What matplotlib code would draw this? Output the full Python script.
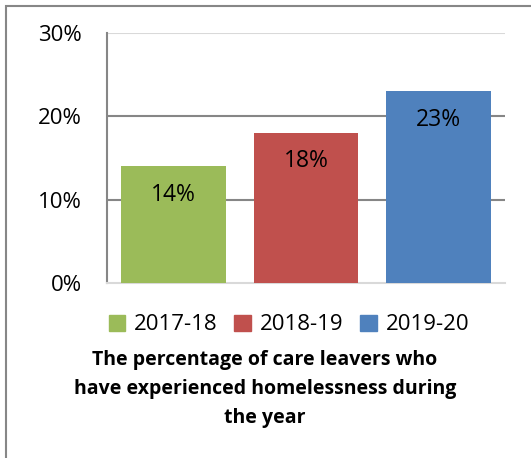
import matplotlib.pyplot as plt
from matplotlib.patches import Rectangle
import numpy as np

years = ['2017-18', '2018-19', '2019-20']
values = [14, 18, 23]
colors = ['#9bbb59', '#c0504d', '#4f81bd']
title = ('The percentage of care leavers who\n'
         'have experienced homelessness during\n'
         'the year')

plt.rcParams['font.family'] = ['Open Sans', 'DejaVu Sans']

W, H = 531, 458
fig = plt.figure(figsize=(W / 100, H / 100), dpi=100)

# outer frame (left and top edges visible)
fig.add_artist(Rectangle((6 / W, -0.1), 1.2, (H - 6) / H + 0.1,
                         transform=fig.transFigure, fill=False,
                         edgecolor='#878787', linewidth=1.5))

ax = fig.add_axes([107 / W, 1 - 283 / H, (505 - 107) / W, (283 - 33) / H])
x = np.arange(len(years))
bars = ax.bar(x, values, width=0.79, color=colors, zorder=3, label=years)

for xi, v in zip(x, values):
    ax.text(xi, v - 3.4, '{}%'.format(v), ha='center', va='center',
            fontsize=16.5, color='black', zorder=4)

ax.set_xlim(-0.5, 2.5)
ax.set_ylim(0, 30)
ax.set_yticks([0, 10, 20, 30])
ax.set_yticklabels(['0%', '10%', '20%', '30%'], fontsize=16)
ax.set_xticks([])
ax.tick_params(axis='y', length=0, pad=18)
for yv in [10, 20]:
    ax.axhline(yv, color='#868686', linewidth=1.5, zorder=1)
ax.axhline(30, color='#d9d9d9', linewidth=1.5, zorder=1)
for s in ['top', 'right']:
    ax.spines[s].set_visible(False)
ax.spines['left'].set_color('#868686')
ax.spines['left'].set_linewidth(1.5)
ax.spines['bottom'].set_color('#d9d9d9')
ax.spines['bottom'].set_linewidth(1.5)

handles = [Rectangle((0, 0), 1, 1, color=c) for c in colors]
fig.legend(handles, years, loc='center', bbox_to_anchor=(289 / W, 1 - 325 / H),
           ncol=3, frameon=False, fontsize=16, handlelength=0.75,
           handleheight=0.75, handletextpad=0.4, columnspacing=0.75)

fig.text(265 / W, 1 - 389 / H, title, ha='center', va='center',
         fontsize=14, fontweight='bold', linespacing=1.6)

fig.savefig('out.png', dpi=100)
